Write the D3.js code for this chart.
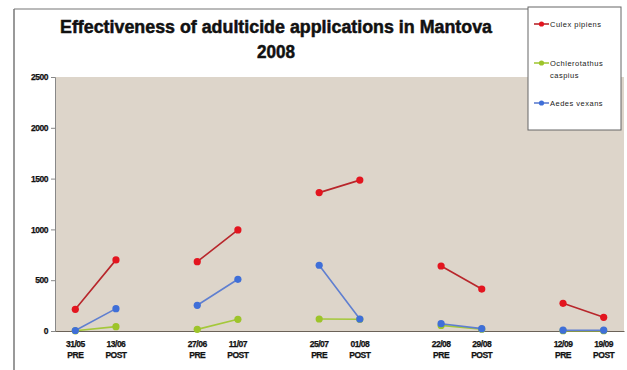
<!DOCTYPE html>
<html><head><meta charset="utf-8">
<script src="https://cdn.jsdelivr.net/npm/d3@7"></script>
<style>body{margin:0;background:#fff}svg{display:block}</style>
</head><body>
<svg id="c" width="627" height="370"></svg>
<script>
const dates  = ["31/05","13/06","","27/06","11/07","","25/07","01/08","","22/08","29/08","","12/09","19/09"];
const phases = ["PRE","POST","","PRE","POST","","PRE","POST","","PRE","POST","","PRE","POST"];
const culex  = [213, 700, null, 682, 995, null, 1362, 1485, null, 640, 413, null, 272, 135];
const ochl   = [2, 43, null, 16, 115, null, 118, 115, null, 55, 18, null, 3, 3];
const aedes  = [5, 220, null, 253, 509, null, 647, 118, null, 72, 23, null, 8, 8];
const yTicks = [0, 500, 1000, 1500, 2000, 2500];
const seriesNames = ["Culex pipiens", "Ochlerotathus caspius", "Aedes vexans"];

const series = [
  {name: seriesNames[0], values: culex, line: "#b8262b", dot: "#e3151f"},
  {name: seriesNames[1], values: ochl,  line: "#a4c83a", dot: "#9dc42a"},
  {name: seriesNames[2], values: aedes, line: "#5f7fd0", dot: "#3f6fd8"}
];

const svg = d3.select("#c");
const L = 55, R = 624, T = 77, B = 331;
const x = d3.scaleBand().domain(d3.range(dates.length)).range([L, R]);
const y = d3.scaleLinear().domain([0, 2500]).range([B, T]);

// outer frame
svg.append("line").attr("x1",14).attr("x2",14).attr("y1",9).attr("y2",370).attr("stroke","#555").attr("stroke-width",1.2);
svg.append("line").attr("x1",14).attr("x2",528).attr("y1",9).attr("y2",9).attr("stroke","#777").attr("stroke-width",1.2);

// plot background
svg.append("rect").attr("x",L).attr("y",T).attr("width",R-L).attr("height",B-T).attr("fill","#ddd5ca");

// title
const font = "'Liberation Sans', Arial, sans-serif";
svg.append("text").attr("x",276).attr("y",33).attr("text-anchor","middle")
  .attr("font-family",font).attr("font-weight","bold").attr("font-size",17.5)
  .attr("textLength",432).attr("lengthAdjust","spacingAndGlyphs")
  .attr("fill","#111").attr("stroke","#111").attr("stroke-width",0.5)
  .text("Effectiveness of adulticide applications in Mantova");
svg.append("text").attr("x",276).attr("y",58).attr("text-anchor","middle")
  .attr("font-family",font).attr("font-weight","bold").attr("font-size",17.5)
  .attr("textLength",38).attr("lengthAdjust","spacingAndGlyphs")
  .attr("fill","#111").attr("stroke","#111").attr("stroke-width",0.5).text("2008");

// y axis
const yAxis = d3.axisLeft(y).tickValues(yTicks).tickSize(4).tickPadding(3).tickFormat(d3.format("d"));
const gy = svg.append("g").attr("transform",`translate(${L},0)`).call(yAxis);
gy.select(".domain").attr("stroke","#888");
gy.selectAll(".tick line").attr("stroke","#888");
gy.selectAll(".tick text").attr("font-family",font).attr("font-weight","bold").attr("font-size",8.5)
  .attr("fill","#111").attr("stroke","#111").attr("stroke-width",0.25).attr("letter-spacing",-0.5);

// x axis
const xAxis = d3.axisBottom(x).tickSize(0).tickFormat(() => "");
const gx = svg.append("g").attr("transform",`translate(0,${B})`).call(xAxis);
gx.select(".domain").attr("stroke","#6b6258").attr("stroke-width",1.2);
gx.selectAll(".tick").each(function(d){
  const t = d3.select(this);
  [[dates[d],16],[phases[d],27]].forEach(([txt,yy]) => {
    t.append("text").attr("y",yy).attr("text-anchor","middle").attr("font-family",font)
      .attr("font-weight","bold").attr("font-size",8.5).attr("fill","#111")
      .attr("stroke","#111").attr("stroke-width",0.25).attr("letter-spacing",-0.5).text(txt);
  });
});

// lines and markers
const line = d3.line().defined(d => d != null)
  .x((d,i) => x(i) + x.bandwidth()/2).y(d => y(d));
series.forEach(s => {
  svg.append("path").attr("d", line(s.values)).attr("fill","none")
    .attr("stroke", s.line).attr("stroke-width",1.6);
  svg.append("g").selectAll("circle")
    .data(s.values.map((v,i)=>({v,i})).filter(d => d.v != null))
    .join("circle").attr("cx", d => x(d.i) + x.bandwidth()/2).attr("cy", d => y(d.v))
    .attr("r",3.6).attr("fill", s.dot);
});

// legend
svg.append("rect").attr("x",528).attr("y",7).attr("width",93).attr("height",123)
  .attr("fill","#fff").attr("stroke","#666").attr("stroke-width",1);
const legY = [[24],[63,75],[103]];
const legLines = [["Culex pipiens"],["Ochlerotathus","caspius"],["Aedes vexans"]];
series.forEach((s,k) => {
  const yy = legY[k][0];
  svg.append("line").attr("x1",534).attr("x2",549).attr("y1",yy).attr("y2",yy).attr("stroke",s.line).attr("stroke-width",1.6);
  svg.append("circle").attr("cx",541.5).attr("cy",yy).attr("r",2.6).attr("fill",s.dot);
  legLines[k].forEach((txt,j) => {
    svg.append("text").attr("x",550).attr("y",legY[k][j]+3).attr("font-family",font)
      .attr("font-size",7.5).attr("fill","#222").attr("letter-spacing",0.5).text(txt);
  });
});
</script>
</body></html>
